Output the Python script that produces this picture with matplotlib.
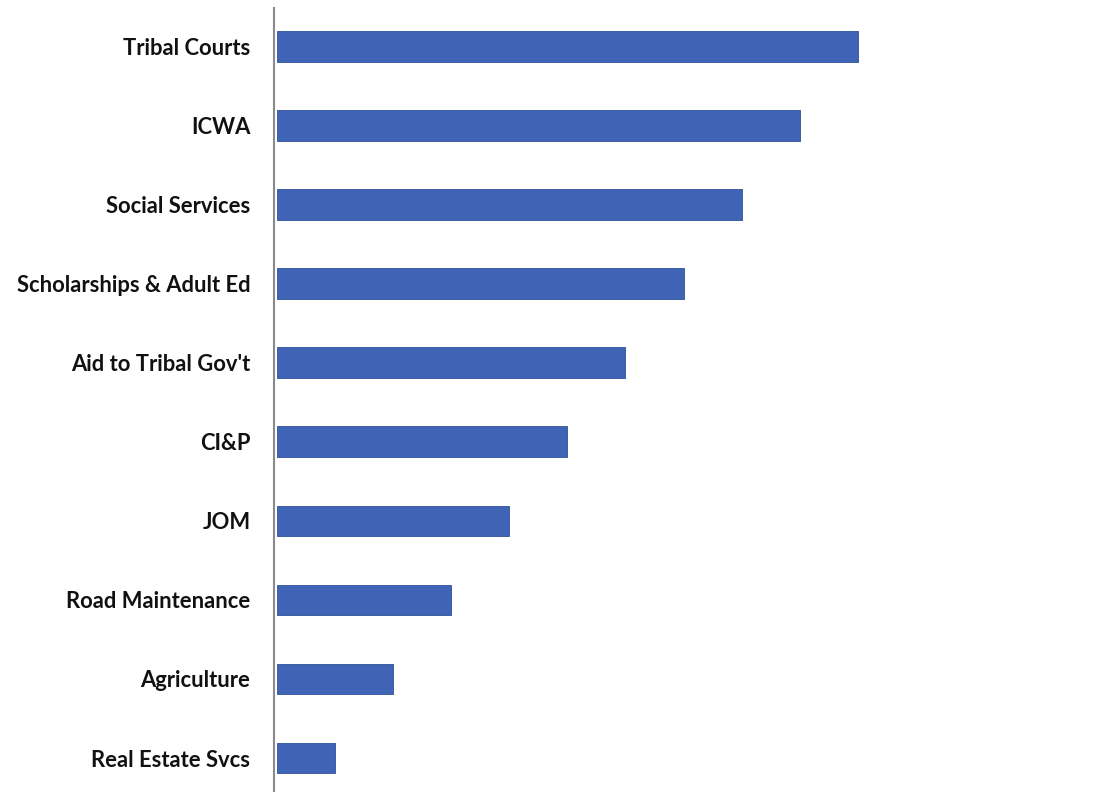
import matplotlib.pyplot as plt

# Programs ranked (bar lengths)
programs = ['Tribal Courts', 'ICWA', 'Social Services', 'Scholarships & Adult Ed',
            "Aid to Tribal Gov't", 'CI&P', 'JOM', 'Road Maintenance',
            'Agriculture', 'Real Estate Svcs']
scores = [10, 9, 8, 7, 6, 5, 4, 3, 2, 1]

fig = plt.figure(figsize=(10.99, 7.92), dpi=100)
ax = fig.add_axes([274 / 1099, 0, 1 - 274 / 1099, 1 - 8 / 792])

# bottom of the list is drawn first so Tribal Courts lands on top
pos = list(range(len(programs)))[::-1]
ax.barh(pos, scores, height=0.39, color='#3F64B6', edgecolor='#2F4F99', linewidth=0.6)

ax.set_yticks(pos)
ax.set_yticklabels(programs, fontfamily='Lato', fontweight='bold', fontsize=15.8, color='#111111')
ax.tick_params(axis='y', length=0, pad=17)
ax.set_xticks([])
ax.set_xlim(-0.05, 14.15)
ax.set_ylim(-0.43, 9.49)

for s in ['top', 'right', 'bottom']:
    ax.spines[s].set_visible(False)
ax.spines['left'].set_color('#8a8a8a')
ax.spines['left'].set_linewidth(1.5)

plt.savefig('out.png', dpi=100)
